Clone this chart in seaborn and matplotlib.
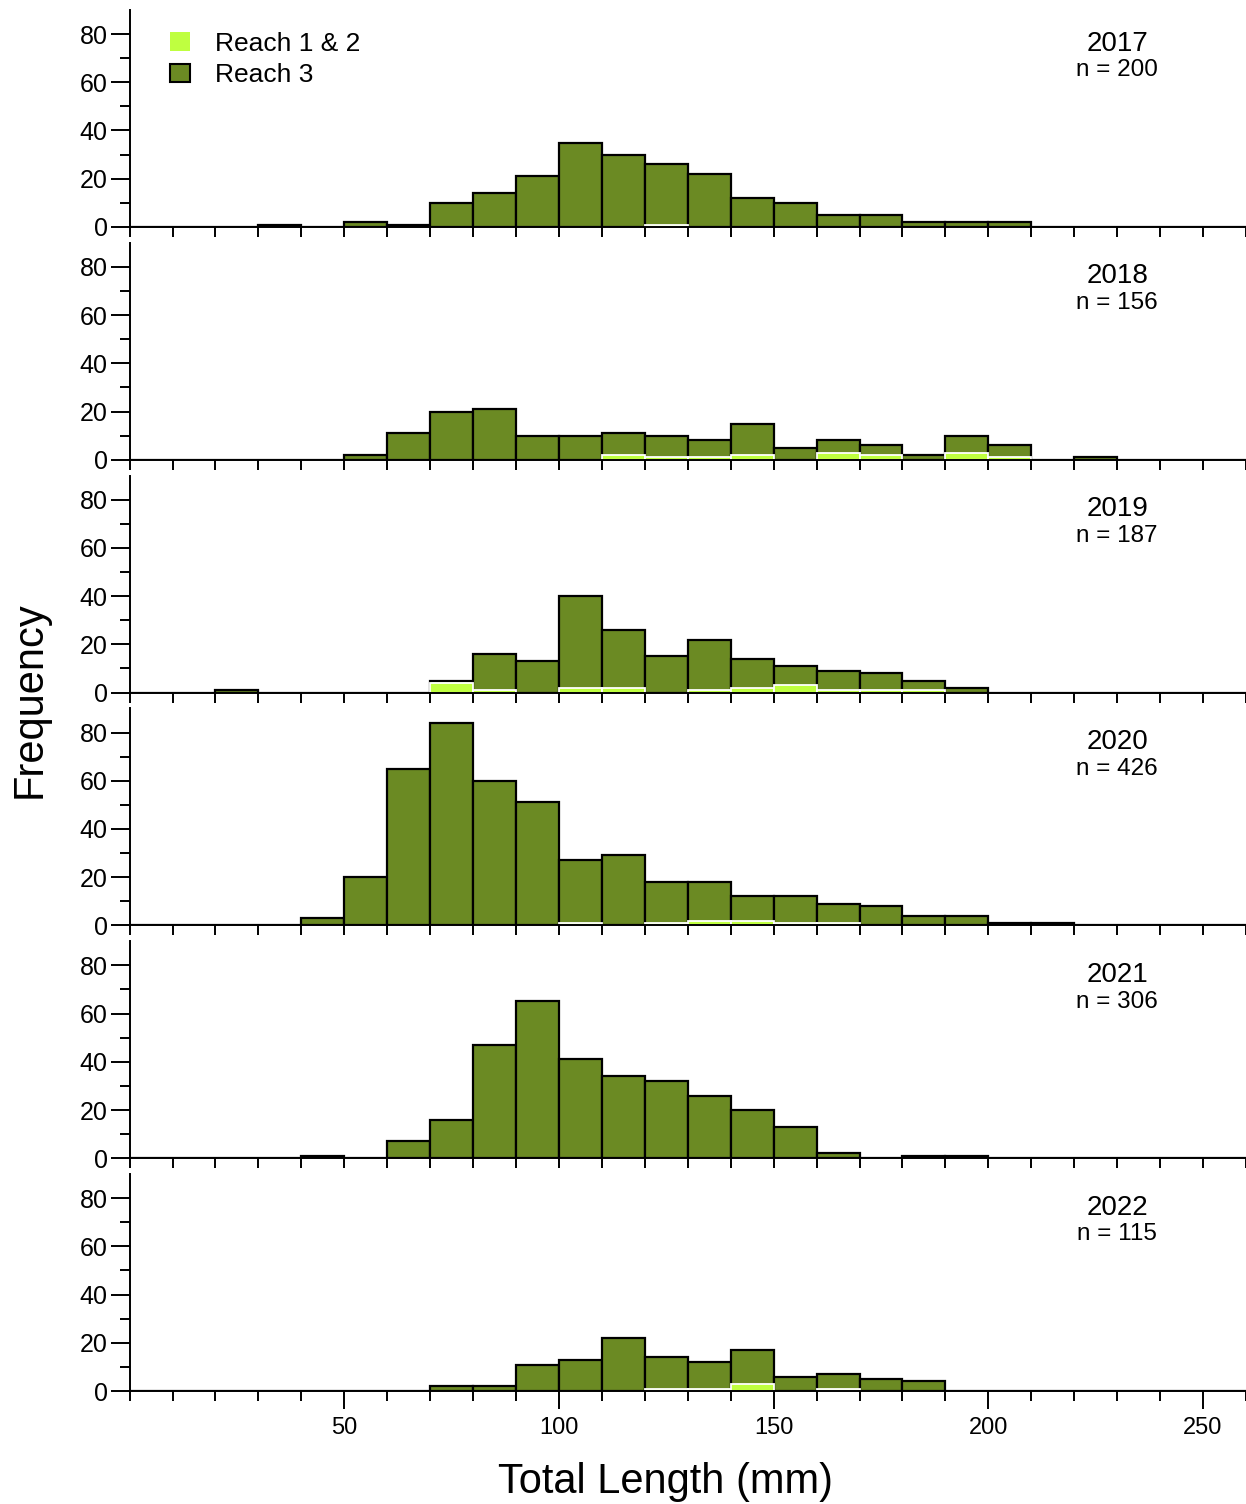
import numpy as np
import pandas as pd
import matplotlib
matplotlib.use("Agg")
import matplotlib.pyplot as plt
import seaborn as sns
from matplotlib.patches import Patch
from matplotlib.ticker import MultipleLocator, FixedLocator

# ---------------- data ----------------
bin_left = [20, 30, 40, 50, 60, 70, 80, 90, 100, 110, 120, 130, 140, 150, 160, 170, 180, 190, 200, 210, 220]
years = ["2017", "2018", "2019", "2020", "2021", "2022"]
n_fish = [200, 156, 187, 426, 306, 115]

reach3_2017 = [0, 1, 0, 2, 1, 10, 14, 21, 35, 30, 25, 22, 12, 10, 5, 5, 2, 2, 2, 0, 0]
reach12_2017 = [0, 0, 0, 0, 0, 0, 0, 0, 0, 0, 1, 0, 0, 0, 0, 0, 0, 0, 0, 0, 0]

reach3_2018 = [0, 0, 0, 2, 11, 20, 21, 10, 10, 9, 9, 7, 13, 5, 5, 4, 2, 7, 5, 0, 1]
reach12_2018 = [0, 0, 0, 0, 0, 0, 0, 0, 0, 2, 1, 1, 2, 0, 3, 2, 0, 3, 1, 0, 0]

reach3_2019 = [1, 0, 0, 0, 0, 1, 15, 13, 38, 24, 15, 21, 12, 8, 8, 7, 4, 2, 0, 0, 0]
reach12_2019 = [0, 0, 0, 0, 0, 4, 1, 0, 2, 2, 0, 1, 2, 3, 1, 1, 1, 0, 0, 0, 0]

reach3_2020 = [0, 0, 3, 20, 65, 84, 60, 51, 26, 29, 17, 16, 10, 11, 8, 8, 4, 4, 1, 1, 0]
reach12_2020 = [0, 0, 0, 0, 0, 0, 0, 0, 1, 0, 1, 2, 2, 1, 1, 0, 0, 0, 0, 0, 0]

reach3_2021 = [0, 0, 1, 0, 7, 16, 47, 65, 41, 34, 32, 26, 20, 13, 2, 0, 1, 1, 0, 0, 0]
reach12_2021 = [0] * 21

reach3_2022 = [0, 0, 0, 0, 0, 2, 2, 11, 13, 22, 13, 11, 14, 6, 6, 5, 4, 0, 0, 0, 0]
reach12_2022 = [0, 0, 0, 0, 0, 0, 0, 0, 0, 0, 1, 1, 3, 0, 1, 0, 0, 0, 0, 0, 0]

reach3 = [reach3_2017, reach3_2018, reach3_2019, reach3_2020, reach3_2021, reach3_2022]
reach12 = [reach12_2017, reach12_2018, reach12_2019, reach12_2020, reach12_2021, reach12_2022]

# ---------------- style ----------------
sns.set_theme(style="ticks")
plt.rcParams['font.family'] = ['Liberation Sans', 'DejaVu Sans']
plt.rcParams['text.color'] = 'black'
OLIVE = '#6b8a23'
LIME = '#bfff40'
LW_AX = 1.4

fig, axes = plt.subplots(6, 1, figsize=(12.46, 15.04), dpi=100)
fig.subplots_adjust(left=0.104, right=1.0, top=0.9934, bottom=0.0751, hspace=0.0728)

centers = [b + 5 for b in bin_left]

for i, ax in enumerate(axes):
    r3 = np.array(reach3[i])
    r12 = np.array(reach12[i])
    df = pd.DataFrame({"length": centers, "total": r3 + r12, "r12": r12})
    sns.histplot(data=df, x="length", weights="total", binwidth=10, binrange=(0, 260),
                 ax=ax, color=OLIVE, edgecolor='black', linewidth=1.6, alpha=1)
    n_before = len(ax.patches)
    if r12.sum() > 0:
        sns.histplot(data=df, x="length", weights="r12", binwidth=10, binrange=(0, 260),
                     ax=ax, color=LIME, edgecolor='white', linewidth=1.3, alpha=1)
        for p in list(ax.patches[n_before:]):
            if p.get_height() <= 0:
                p.remove()

    ax.set_xlim(0, 260)
    ax.set_ylim(0, 90)
    ax.set_xlabel('')
    ax.set_ylabel('')
    for s in ['top', 'right']:
        ax.spines[s].set_visible(False)
    for s in ['left', 'bottom']:
        ax.spines[s].set_linewidth(LW_AX)
        ax.spines[s].set_color('black')

    ax.yaxis.set_major_locator(FixedLocator([0, 20, 40, 60, 80]))
    ax.yaxis.set_minor_locator(FixedLocator([10, 30, 50, 70]))
    ax.tick_params(axis='y', which='major', length=13.7, width=LW_AX, labelsize=18,
                   pad=2, color='black', labelcolor='black', direction='out')
    ax.tick_params(axis='y', which='minor', length=7.2, width=LW_AX, color='black', direction='out')

    if i < 5:
        ax.xaxis.set_major_locator(MultipleLocator(10))
        ax.tick_params(axis='x', which='major', length=7.2, width=LW_AX, labelbottom=False,
                       color='black', direction='out')
    else:
        ax.xaxis.set_major_locator(FixedLocator([50, 100, 150, 200, 250]))
        ax.xaxis.set_minor_locator(MultipleLocator(10))
        ax.tick_params(axis='x', which='major', length=13, width=LW_AX, labelsize=17,
                       pad=6, color='black', labelcolor='black', direction='out')
        ax.tick_params(axis='x', which='minor', length=7.2, width=LW_AX, color='black', direction='out')

    ax.text(230, 0.845, years[i], transform=ax.get_xaxis_transform(),
            ha='center', va='center', fontsize=20, color='black')
    ax.text(230, 0.722, f"n = {n_fish[i]}", transform=ax.get_xaxis_transform(),
            ha='center', va='center', fontsize=17.5, color='black')
    ax.grid(False)
    ax.set_facecolor('white')

handles = [Patch(facecolor=LIME, edgecolor='none'),
           Patch(facecolor=OLIVE, edgecolor='black', linewidth=1.5)]
axes[0].legend(handles, ['Reach 1 & 2', 'Reach 3'], loc='upper left',
               bbox_to_anchor=(0.036, 0.9), frameon=False, fontsize=19,
               handlelength=0.75, handleheight=0.7, handletextpad=0.95,
               labelspacing=0.28, borderpad=0, borderaxespad=0, labelcolor='black')

fig.text(0.024, 1 - 700 / 1504, 'Frequency', rotation=90, fontsize=30,
         ha='center', va='center', color='black')
fig.text(666 / 1246, 1 - 1482 / 1504, 'Total Length (mm)', fontsize=30,
         ha='center', va='center', color='black')

fig.savefig('out.png', dpi=100, facecolor='white')
